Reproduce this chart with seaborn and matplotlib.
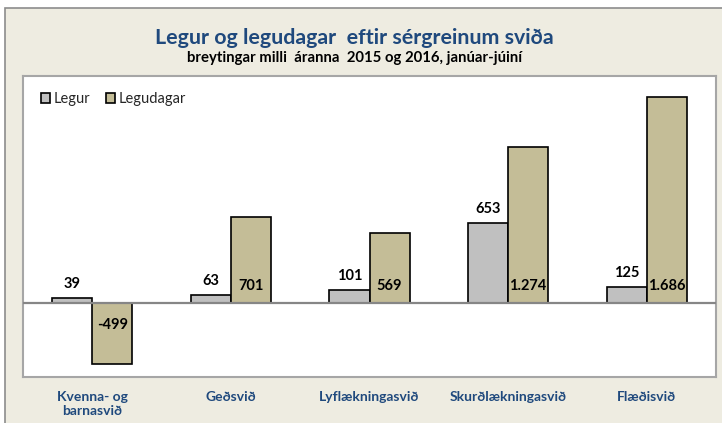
import matplotlib
matplotlib.use("Agg")
import matplotlib.pyplot as plt
from matplotlib.patches import Rectangle
import seaborn as sns
import pandas as pd

categories = ["Kvenna- og\nbarnasvið", "Geðsvið", "Lyflækningasvið", "Skurðlækningasvið", "Flæðisvið"]
legur = [39, 63, 101, 653, 125]
legudagar = [-499, 701, 569, 1274, 1686]
series_names = ["Legur", "Legudagar"]

title = "Legur og legudagar  eftir sérgreinum sviða"
subtitle = "breytingar milli  áranna  2015 og 2016, janúar-júiní"

C_LEGUR = "#C0C0C0"
C_DAGAR = "#C4BD97"
C_BLUE = "#1F497D"
C_BG = "#EEECE1"

sns.set_theme(style="white")
plt.rcParams["font.family"] = ["Lato", "DejaVu Sans"]

df = pd.DataFrame({
    "svið": categories * 2,
    "gildi": legur + legudagar,
    "röð": [series_names[0]] * len(categories) + [series_names[1]] * len(categories),
})

fig = plt.figure(figsize=(7.22, 4.23), dpi=100)
fig.patch.set_facecolor("white")
fig.patches.append(Rectangle((5 / 722, -0.2), 1.2, 415 / 423 + 0.2, transform=fig.transFigure,
                             facecolor=C_BG, edgecolor="#8C8C8C", linewidth=1.2, zorder=-10))

ax = fig.add_axes([23 / 722, 46 / 423, 693 / 722, 301 / 423])
ax.set_facecolor("white")

sns.barplot(data=df, x="svið", y="gildi", hue="röð", palette=[C_LEGUR, C_DAGAR],
            saturation=1, width=0.578, edgecolor="black", linewidth=1.2, ax=ax,
            legend=False, errorbar=None, gap=0)

ax.set_xlim(-0.5, len(categories) - 0.5)
ax.set_ylim(-608, 1854)
ax.axhline(0, color="#868686", lw=1.6, zorder=5)

def fmt(v):
    return f"{v:,}".replace(",", ".")

containers = ax.containers
ax.bar_label(containers[0], labels=[fmt(v) for v in legur], padding=5,
             fontsize=10.5, fontweight="bold", color="black")
for i, v in enumerate(legudagar):
    ax.annotate(fmt(v), xy=(i + 0.1445, 0), xytext=(0, 17 if v > 0 else -22),
                textcoords="offset pixels", ha="center", va="center",
                fontsize=10.5, fontweight="bold", color="black", zorder=6)

ax.set_xlabel("")
ax.set_ylabel("")
ax.set_yticks([])
ax.tick_params(axis="x", length=0, pad=10)
for lbl in ax.get_xticklabels():
    lbl.set_fontweight("bold")
    lbl.set_color(C_BLUE)
    lbl.set_fontsize(10)
    lbl.set_verticalalignment("top")
for s in ax.spines.values():
    s.set_color("#A6A6A6")
    s.set_linewidth(1.5)

handles = [Rectangle((0, 0), 1, 1, facecolor=C_LEGUR, edgecolor="black", lw=1.2),
           Rectangle((0, 0), 1, 1, facecolor=C_DAGAR, edgecolor="black", lw=1.2)]
leg = ax.legend(handles, series_names, loc="upper left", bbox_to_anchor=(0.013, 0.975),
                ncol=2, frameon=False, fontsize=10.5, handlelength=0.65, handleheight=0.65,
                handletextpad=0.2, columnspacing=1.1, borderaxespad=0.2)
for t in leg.get_texts():
    t.set_color("#262626")

fig.text(354 / 722, 1 - 38 / 423, title, ha="center", va="center", fontsize=15.4,
         fontweight="bold", color=C_BLUE)
fig.text(355 / 722, 1 - 58 / 423, subtitle, ha="center", va="center", fontsize=10.7,
         fontweight="bold", color="black")

fig.savefig("out.png", dpi=100)
